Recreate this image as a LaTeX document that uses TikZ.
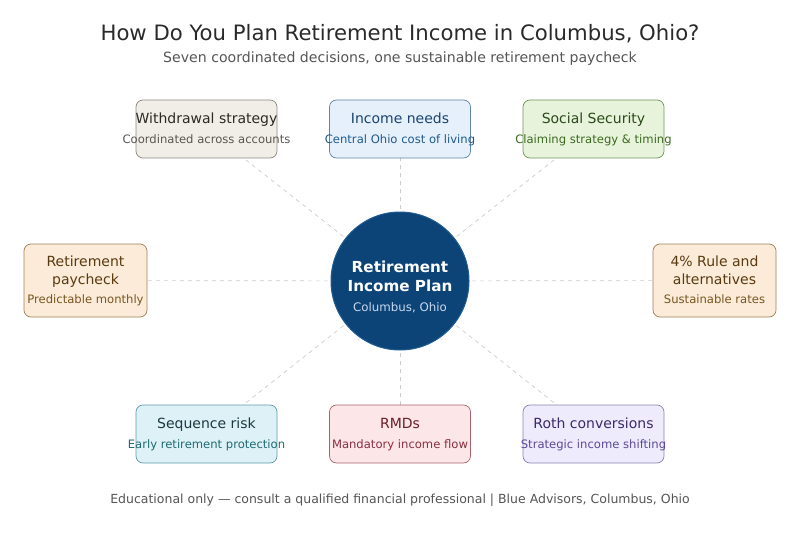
\documentclass[tikz,border=0pt]{standalone}
\usepackage{fontspec}
\setmainfont{DejaVu Sans}
\definecolor{titlegray}{HTML}{2A2A2A}
\definecolor{subgray}{HTML}{555555}
\definecolor{dashgray}{HTML}{CCCCCC}
\definecolor{planblue}{HTML}{0D4477}
\definecolor{planedge}{HTML}{1E5C92}
\definecolor{plansub}{HTML}{C8D8EE}
% box colours: fill, edge, title, subtitle
\definecolor{wdfill}{HTML}{F1EEE8}\definecolor{wdedge}{HTML}{8C8780}\definecolor{wdtitle}{HTML}{2D2A26}\definecolor{wdsub}{HTML}{5A5550}
\definecolor{infill}{HTML}{E6F0FA}\definecolor{inedge}{HTML}{6084AA}\definecolor{intitle}{HTML}{1A4470}\definecolor{insub}{HTML}{1E5A8C}
\definecolor{ssfill}{HTML}{E8F3DC}\definecolor{ssedge}{HTML}{709654}\definecolor{sstitle}{HTML}{2A4A18}\definecolor{sssub}{HTML}{3A6A1E}
\definecolor{rpfill}{HTML}{FBEBD8}\definecolor{rpedge}{HTML}{A08058}\definecolor{rptitle}{HTML}{5A3A10}\definecolor{rpsub}{HTML}{7A5520}
\definecolor{sqfill}{HTML}{DDF1F6}\definecolor{sqedge}{HTML}{609AA6}\definecolor{sqtitle}{HTML}{1A3A40}\definecolor{sqsub}{HTML}{1E6A70}
\definecolor{rmfill}{HTML}{FCE6E8}\definecolor{rmedge}{HTML}{A8646E}\definecolor{rmtitle}{HTML}{6A1E2A}\definecolor{rmsub}{HTML}{8A3040}
\definecolor{rofill}{HTML}{EEEBFC}\definecolor{roedge}{HTML}{8C80B2}\definecolor{rotitle}{HTML}{3A2A6A}\definecolor{rosub}{HTML}{5A4A9A}
\tikzset{
  card/.style={draw, rounded corners=7pt, line width=0.7pt, minimum width=141pt, minimum height=58pt, inner sep=0pt},
  widecard/.style={card, minimum width=123pt, minimum height=73pt},
  spoke/.style={draw=dashgray, dash pattern=on 4pt off 4pt, line width=0.7pt}
}
% title lines (#2, may hold \\) over one subtitle line (#4); text may stick out of the box
\newcommand{\cardtext}[4]{\makebox[100pt]{\begin{tabular}{@{}c@{}}{\color{#1}\fontsize{14}{18}\selectfont\begin{tabular}{@{}c@{}}#2\end{tabular}}\\{\color{#3}\fontsize{11.6}{13}\selectfont\rule{0pt}{14.5pt}#4}\end{tabular}}}
\begin{document}
\begin{tikzpicture}[x=1pt,y=-1pt]
\useasboundingbox (0,0) rectangle (800,540);
% spokes first, boxes cover them
\coordinate (hub) at (400,281);
\foreach \p in {(206.5,129),(400,129),(593.5,129),(85.5,280.5),(714.5,280.5),(206.5,434),(400,434),(593.5,434)}
  \draw[spoke] (hub) -- \p;
% title
\node (title) at (400,34) {\color{titlegray}\fontsize{21.2}{25}\selectfont How Do You Plan Retirement Income in Columbus, Ohio?};
\node (subtitle) at (400,59) {\color{subgray}\fontsize{14.1}{17}\selectfont Seven coordinated decisions, one sustainable retirement paycheck};
% centre
\node[circle, fill=planblue, draw=planedge, line width=1pt, minimum size=138pt, inner sep=0pt] (plan) at (hub) {};
\node[inner sep=0pt] (plantext) at ([yshift=-6pt]plan.center) {\begin{tabular}{@{}c@{}}{\color{white}\bfseries\fontsize{15.2}{19}\selectfont\begin{tabular}{@{}c@{}}Retirement\\Income Plan\end{tabular}}\\{\color{plansub}\fontsize{11.8}{14}\selectfont\rule{0pt}{15pt}Columbus, Ohio}\end{tabular}};
% boxes
\node[card, fill=wdfill, draw=wdedge] (withdraw) at (206.5,129) {\cardtext{wdtitle}{Withdrawal strategy}{wdsub}{Coordinated across accounts}};
\node[card, fill=infill, draw=inedge] (needs) at (400,129) {\cardtext{intitle}{Income needs}{insub}{Central Ohio cost of living}};
\node[card, fill=ssfill, draw=ssedge] (social) at (593.5,129) {\cardtext{sstitle}{Social Security}{sssub}{Claiming strategy \& timing}};
\node[widecard, fill=rpfill, draw=rpedge] (paycheck) at (85.5,280.5) {\raisebox{2pt}{\cardtext{rptitle}{Retirement\\paycheck}{rpsub}{Predictable monthly}}};
\node[widecard, fill=rpfill, draw=rpedge] (rule) at (714.5,280.5) {\raisebox{2pt}{\cardtext{rptitle}{4\% Rule and\\alternatives}{rpsub}{Sustainable rates}}};
\node[card, fill=sqfill, draw=sqedge] (sequence) at (206.5,434) {\cardtext{sqtitle}{Sequence risk}{sqsub}{Early retirement protection}};
\node[card, fill=rmfill, draw=rmedge] (rmds) at (400,434) {\cardtext{rmtitle}{RMDs}{rmsub}{Mandatory income flow}};
\node[card, fill=rofill, draw=roedge] (roth) at (593.5,434) {\cardtext{rotitle}{Roth conversions}{rosub}{Strategic income shifting}};
% footer
\node (footer) at (400,500) {\color{subgray}\fontsize{12.5}{15}\selectfont Educational only — consult a qualified financial professional | Blue Advisors, Columbus, Ohio};
\end{tikzpicture}
\end{document}
